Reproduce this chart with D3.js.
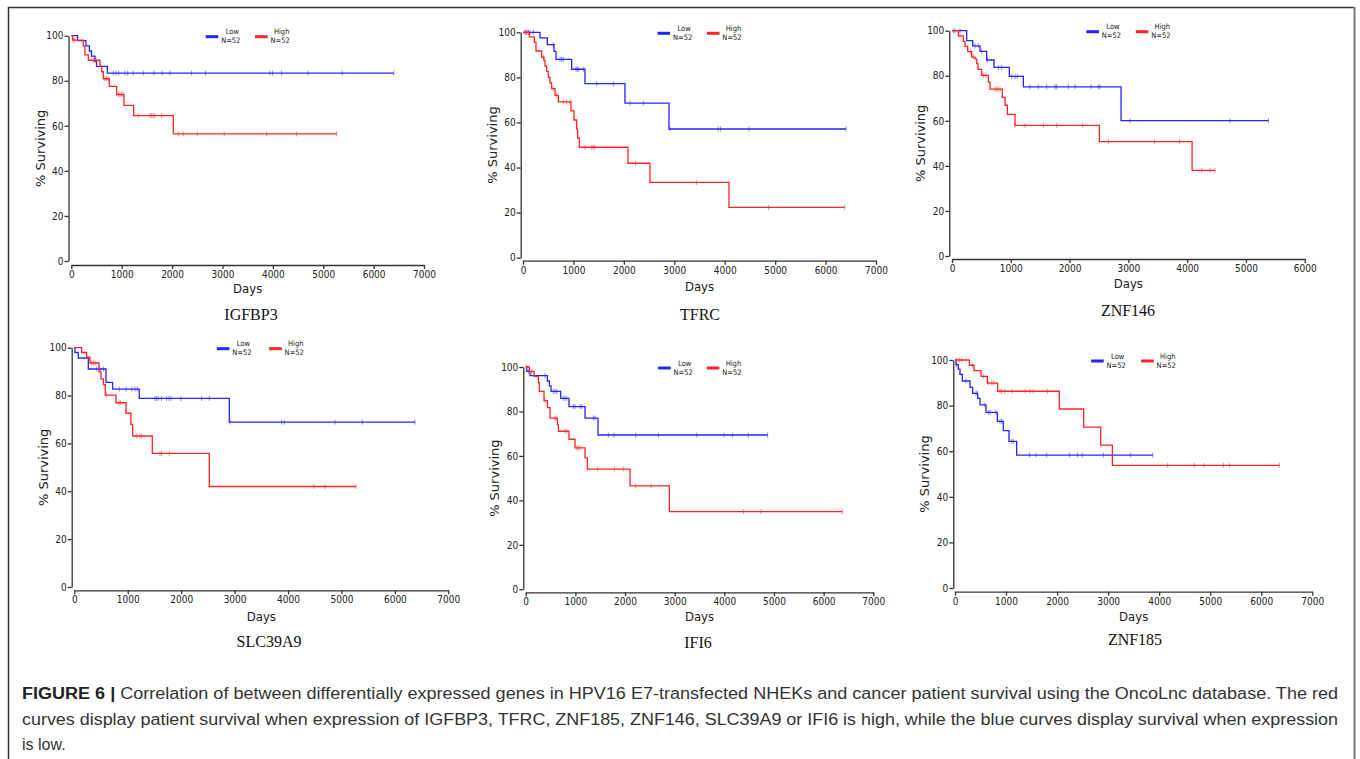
<!DOCTYPE html>
<html>
<head>
<meta charset="utf-8">
<script src="https://cdn.jsdelivr.net/npm/d3@7"></script>
<style>
  body { margin: 0; background: #fff; }
  .eje text { font-family: "DejaVu Sans Condensed", "DejaVu Sans", sans-serif; font-size: 10px; fill: #222; }
  .eje path, .eje line { stroke: #333; stroke-width: 1.3px; }
  .etiqueta { font-family: "DejaVu Sans Condensed", "DejaVu Sans", sans-serif; font-size: 13px; fill: #222; }
  .ley { font-family: "DejaVu Sans Condensed", "DejaVu Sans", sans-serif; font-size: 7.5px; fill: #222; }
  .gen { font-family: "Liberation Serif", "Times New Roman", serif; font-size: 16px; fill: #111; }
  .pie { font-family: "Liberation Sans", Arial, sans-serif; font-size: 16px; fill: #333; }
</style>
</head>
<body>
<div id="graf"></div>
<script>
// I. Datos (dia del escalon, % supervivencia) + censuras + ultimo dia
genes = ['IGFBP3', 'TFRC', 'ZNF146', 'SLC39A9', 'IFI6', 'ZNF185']
yTicks = [0, 20, 40, 60, 80, 100]
xTicks7000 = [0, 1000, 2000, 3000, 4000, 5000, 6000, 7000]
xTicks6000 = [0, 1000, 2000, 3000, 4000, 5000, 6000]

// IGFBP3
igfbp3Low = [[0,100],[125,97.8],[290,95.5],[360,93.2],[400,90.9],[470,88.6],[500,86.4],[715,83.4]]
igfbp3LowCens = [833,886,939,1065,1118,1230,1429,1640,1806,1958,2388,2665,3942,3995,4173,4696,5377,6400]
igfbp3High = [[0,100],[26,98],[238,95.5],[271,91.5],[337,89.1],[569,86.5],[602,84],[635,80.9],[754,77.5],[900,73.9],[1045,69.1],[1237,64.5],[2024,56.4]]
igfbp3HighCens = [40,73,436,490,668,701,734,933,966,1000,1032,1329,1561,1594,1627,1660,1792,2123,2222,2500,3036,3876,4471,5265]

// TFRC
tfrcLow = [[0,100],[337,97.5],[482,94.5],[615,91.5],[654,88],[965,83.6],[1229,77.2],[2022,68.6],[2895,57.1]]
tfrcLowCens = [40,73,106,139,205,601,734,767,800,1051,1077,1104,1196,1461,1791,2122,2386,2915,3873,3919,4481,6405]
tfrcHigh = [[0,100],[126,98],[225,95.5],[258,91.7],[370,89],[416,87.5],[436,85],[469,82.7],[502,80],[535,77.5],[568,75],[635,72],[700,69.1],[952,65.1],[1011,61.1],[1064,57],[1084,53.1],[1117,49],[2082,41.9],[2518,33.4],[4085,22.3]]
tfrcHighCens = [40,73,106,403,601,667,800,866,932,1229,1361,1394,1427,2233,3443,4871,6378]

// ZNF146
znf146Low = [[0,100],[250,95.6],[352,93.3],[476,90.8],[590,87],[715,83.7],[976,79.7],[1214,75.1],[2876,60.1]]
znf146LowCens = [51,136,391,448,505,601,788,845,1015,1072,1112,1327,1469,1611,1753,1781,1980,2093,2365,2490,2518,3029,4730,5383]
znf146High = [[0,100],[108,97.7],[193,95.3],[221,93],[267,90.7],[335,88.3],[391,87.5],[420,85.4],[442,82.8],[505,80.2],[618,77.2],[647,74.1],[856,70.4],[902,66.9],[942,62.9],[1072,58],[2507,50.8],[4084,38]]
znf146HighCens = [23,136,318,363,533,579,732,760,788,817,1072,1242,1554,1781,2223,2660,3443,3868,4248,4390,4475]

// SLC39A9
slc39a9Low = [[0,100],[12,98],[75,95.7],[262,91.1],[593,85.5],[717,82.7],[1216,78.8],[2901,68.9]]
slc39a9LowCens = [418,480,543,842,967,1073,1135,1179,1510,1541,1572,1634,1728,1772,1809,1996,2383,2526,2913,3880,3930,4878,5390,6376]
slc39a9High = [[0,100],[137,98],[231,96],[293,93.6],[462,90],[499,87],[543,84.6],[580,80.2],[780,77],[967,72.6],[1060,68],[1092,63.1],[1460,55.8],[2526,42]]
slc39a9HighCens = [324,356,387,605,836,867,1167,1229,1260,1603,1634,1778,4485,4691,5271]

// IFI6
ifi6Low = [[0,100],[20,98],[87,96.1],[436,93.7],[477,91.5],[510,89],[705,85.9],[872,82.2],[1195,77],[1456,69.4]]
ifi6LowCens = [54,389,557,591,624,758,792,826,960,993,1094,1128,1362,1396,1664,1779,2215,2671,3443,3993,4168,4483,4872]
ifi6High = [[0,100],[74,98],[168,95.8],[255,93],[275,89],[369,84.9],[436,81.7],[490,77],[638,74],[658,71.1],[872,67.5],[993,63.6],[1195,59.1],[1242,54.1],[2101,46.5],[2893,34.9]]
ifi6HighCens = [20,121,389,590,611,792,826,1027,1060,1094,1450,1785,1966,2215,2523,4383,4738,6376]

// ZNF185
znf185Low = [[0,100],[20,98],[65,96],[98,93.7],[144,90.8],[294,88],[346,85.4],[444,83.2],[490,80.3],[607,77],[830,73.1],[947,69],[1058,64.3],[1208,58.3]]
znf185LowCens = [33,216,412,438,588,653,686,803,882,914,1110,1143,1457,1587,1796,2240,2397,2495,2907,3442,3873]
znf185High = [[0,100],[281,97.7],[372,95.3],[510,92.8],[634,89.9],[836,86.3],[2044,78.5],[2521,70.6],[2854,62.7],[3083,53.8]]
znf185HighCens = [33,85,131,346,555,653,719,751,882,914,980,1123,1372,1470,1535,1809,4167,4690,4880,5258,5376,6355]

lowCurves  = [igfbp3Low, tfrcLow, znf146Low, slc39a9Low, ifi6Low, znf185Low]
lowCens    = [igfbp3LowCens, tfrcLowCens, znf146LowCens, slc39a9LowCens, ifi6LowCens, znf185LowCens]
lowEnd     = [6400, 6405, 5383, 6376, 4872, 3873]
highCurves = [igfbp3High, tfrcHigh, znf146High, slc39a9High, ifi6High, znf185High]
highCens   = [igfbp3HighCens, tfrcHighCens, znf146HighCens, slc39a9HighCens, ifi6HighCens, znf185HighCens]
highEnd    = [5265, 6378, 4475, 5271, 6376, 6355]
xMaxs      = [7000, 7000, 6000, 7000, 7000, 7000]

// II. Configuracion (posicion de cada panel en px)
paneles = [
  { xL: 71.3,  xR: 424,    yT: 35.7,  yB: 261,   ejeY: 68.5,  ejeX: 265,   nomX: 251,  nomY: 320, diasY: 293 },
  { xL: 523,   xR: 876,    yT: 32.3,  yB: 257.7, ejeY: 520.7, ejeX: 260.7, nomX: 700,  nomY: 320, diasY: 291 },
  { xL: 952,   xR: 1304.7, yT: 30.7,  yB: 256,   ejeY: 949.3, ejeX: 259,   nomX: 1128, nomY: 316, diasY: 288 },
  { xL: 74.3,  xR: 448.3,  yT: 347.7, yB: 587,   ejeY: 71.7,  ejeX: 590.3, nomX: 269,  nomY: 647, diasY: 621 },
  { xL: 525.7, xR: 873.3,  yT: 367,   yB: 589.3, ejeY: 523.3, ejeX: 592.3, nomX: 698,  nomY: 648, diasY: 621 },
  { xL: 955,   xR: 1312.3, yT: 360,   yB: 588,   ejeY: 953.3, ejeX: 591.7, nomX: 1135, nomY: 645, diasY: 621 }
]

azul = '#2424ff'
rojo = '#ff2424'

svg = d3.select('#graf').append('svg')
        .attr('width', 1360)
        .attr('height', 759)

// marco
svg.append('path')
   .attr('d', 'M8.5,759 L8.5,7.5 L1354,7.5')
   .attr('fill', 'none')
   .attr('stroke', '#333')
   .attr('stroke-width', 1.5)
svg.append('line')
   .attr('x1', 1354.5).attr('x2', 1354.5)
   .attr('y1', 7).attr('y2', 759)
   .attr('stroke', '#777')
   .attr('stroke-width', 2)

// valor de supervivencia en el dia t
function survAt(steps, t) {
  s = steps[0][1]
  steps.forEach(d => { if (d[0] <= t) s = d[1] })
  return s
}

// III. Dibujo de cada panel
paneles.forEach((p, i) => {
  g = svg.append('g')

  x = d3.scaleLinear().domain([0, xMaxs[i]]).range([p.xL, p.xR])
  y = d3.scaleLinear().domain([0, 100]).range([p.yB, p.yT])

  g.append('g')
   .attr('class', 'eje')
   .attr('transform', `translate(0, ${ p.ejeX })`)
   .call(d3.axisBottom(x)
           .tickValues(xMaxs[i] == 6000 ? xTicks6000 : xTicks7000)
           .tickFormat(d3.format('d'))
           .tickSize(4).tickSizeOuter(0).tickPadding(2))

  g.append('g')
   .attr('class', 'eje')
   .attr('transform', `translate(${ p.ejeY }, 0)`)
   .call(d3.axisLeft(y)
           .tickValues(yTicks)
           .tickFormat(d3.format('d'))
           .tickSize(4).tickSizeOuter(0).tickPadding(1))

  g.append('text')
   .attr('class', 'etiqueta')
   .attr('x', (p.xL + p.xR) / 2)
   .attr('y', p.diasY)
   .attr('text-anchor', 'middle')
   .text('Days')

  g.append('text')
   .attr('class', 'etiqueta')
   .attr('transform', `translate(${ p.ejeY - 24 }, ${ (p.yT + p.yB) / 2 }) rotate(-90)`)
   .attr('text-anchor', 'middle')
   .style('font-family', '"DejaVu Sans", sans-serif')
   .style('font-size', '13px')
   .text('% Surviving')

  g.append('text')
   .attr('class', 'gen')
   .attr('x', p.nomX)
   .attr('y', p.nomY)
   .attr('text-anchor', 'middle')
   .text(genes[i])

  linea = d3.line()
            .x(d => x(d[0]))
            .y(d => y(d[1]))
            .curve(d3.curveStepAfter)

  series = [
    { steps: lowCurves[i],  cens: lowCens[i],  end: lowEnd[i],  color: azul },
    { steps: highCurves[i], cens: highCens[i], end: highEnd[i], color: rojo }
  ]

  series.forEach(s => {
    pts = s.steps.concat([[s.end, s.steps[s.steps.length - 1][1]]])
    g.append('path')
     .attr('d', linea(pts))
     .attr('fill', 'none')
     .attr('stroke', s.color)
     .attr('stroke-width', 1.3)

    g.selectAll(null)
     .data(s.cens)
     .enter()
     .append('line')
       .attr('x1', d => x(d)).attr('x2', d => x(d))
       .attr('y1', d => y(survAt(s.steps, d)) - 2.5)
       .attr('y2', d => y(survAt(s.steps, d)) + 2.5)
       .attr('stroke', s.color)
       .attr('stroke-opacity', 0.6)
       .attr('stroke-width', 0.9)
  })

  // leyenda
  ancho = p.xR - p.xL
  ley = [
    { x0: p.xL + ancho * 0.381, nombre: 'Low',  color: azul },
    { x0: p.xL + ancho * 0.521, nombre: 'High', color: rojo }
  ]
  ley.forEach(l => {
    g.append('line')
     .attr('x1', l.x0).attr('x2', l.x0 + 12.6)
     .attr('y1', p.yT + 1).attr('y2', p.yT + 1)
     .attr('stroke', l.color)
     .attr('stroke-width', 3)
    g.append('text')
     .attr('class', 'ley')
     .attr('x', l.x0 + 12.6 + 14)
     .attr('y', p.yT - 1.5)
     .attr('text-anchor', 'middle')
     .text(l.nombre)
    g.append('text')
     .attr('class', 'ley')
     .attr('x', l.x0 + 12.6 + 12.5)
     .attr('y', p.yT + 7.5)
     .attr('text-anchor', 'middle')
     .text('N=52')
  })
})

// IV. Pie de figura
lineas = [
  { y: 699, ancho: 1316, b: 'FIGURE 6 | ', t: 'Correlation of between differentially expressed genes in HPV16 E7-transfected NHEKs and cancer patient survival using the OncoLnc database. The red' },
  { y: 725, ancho: 1316, b: '', t: 'curves display patient survival when expression of IGFBP3, TFRC, ZNF185, ZNF146, SLC39A9 or IFI6 is high, while the blue curves display survival when expression' },
  { y: 750, ancho: null, b: '', t: 'is low.' }
]
lineas.forEach(l => {
  tx = svg.append('text')
          .attr('class', 'pie')
          .attr('x', 22)
          .attr('y', l.y)
  if (l.ancho) tx.attr('textLength', l.ancho).attr('lengthAdjust', 'spacingAndGlyphs')
  if (l.b) tx.append('tspan').style('font-weight', 'bold').style('fill', '#222').text(l.b)
  tx.append('tspan').text(l.t)
})
</script>
</body>
</html>
